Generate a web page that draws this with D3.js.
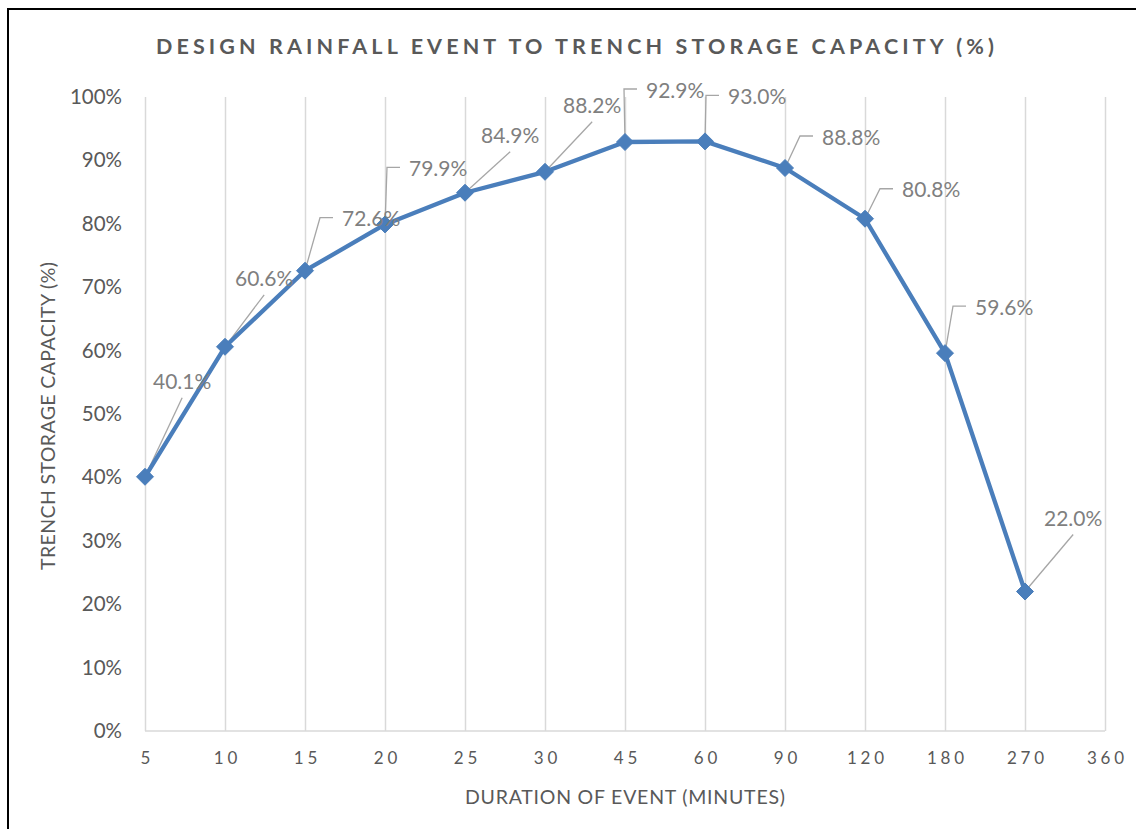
<!DOCTYPE html>
<html>
<head>
<meta charset="utf-8">
<script src="https://cdn.jsdelivr.net/npm/d3@7/dist/d3.min.js"></script>
<style>
  html, body { margin: 0; padding: 0; background: #fff; }
  svg { display: block; }
  text { font-family: Lato, "Open Sans", sans-serif; }
</style>
</head>
<body>
<svg id="chart" width="1136" height="829"></svg>
<script>
// ---- Data ----
const categories = ["5", "10", "15", "20", "25", "30", "45", "60", "90", "120", "180", "270", "360"];
const capacity = [0.401, 0.606, 0.726, 0.799, 0.849, 0.882, 0.929, 0.930, 0.888, 0.808, 0.596, 0.220, null];
const yTicks = [0, 0.1, 0.2, 0.3, 0.4, 0.5, 0.6, 0.7, 0.8, 0.9, 1.0];
const titleText = "DESIGN RAINFALL EVENT TO TRENCH STORAGE CAPACITY (%)";
const xTitle = "DURATION OF EVENT (MINUTES)";
const yTitle = "TRENCH STORAGE CAPACITY (%)";

// ---- Label layout (offsets of label text from its point, and leader style) ----
const labelLayout = [
  {dx: 8,  dy: -95, leader: "below"},
  {dx: 10, dy: -68, leader: "below"},
  {dx: 37, dy: -52, leader: "left"},
  {dx: 24, dy: -56, leader: "left"},
  {dx: 16, dy: -57, leader: "below"},
  {dx: 18, dy: -66, leader: "below"},
  {dx: 21, dy: -52, leader: "left"},
  {dx: 23, dy: -45, leader: "left"},
  {dx: 37, dy: -31, leader: "left"},
  {dx: 37, dy: -29, leader: "left"},
  {dx: 30, dy: -46, leader: "left"},
  {dx: 19, dy: -73, leader: "below"}
];

const svg = d3.select("#chart");
const W = 1136, H = 829;
const plot = {left: 145, top: 97, right: 1105, bottom: 731};

// Border (top + left visible)
svg.append("path")
  .attr("d", `M8,${H} L8,9 L${W},9`)
  .attr("fill", "none").attr("stroke", "#000").attr("stroke-width", 2);

const x = d3.scalePoint().domain(categories).range([plot.left, plot.right]);
const y = d3.scaleLinear().domain([0, 1]).range([plot.bottom, plot.top]);

// Vertical gridlines
const grid = svg.append("g").attr("transform", `translate(0,${plot.bottom})`)
  .call(d3.axisBottom(x).tickSize(-(plot.bottom - plot.top)).tickFormat(""));
grid.select(".domain").remove();
grid.selectAll(".tick line").attr("stroke", "#d9d9d9").attr("stroke-width", 1.5);

// Bottom axis line
svg.append("line")
  .attr("x1", plot.left).attr("x2", plot.right)
  .attr("y1", plot.bottom).attr("y2", plot.bottom)
  .attr("stroke", "#d9d9d9").attr("stroke-width", 1.5);

// X tick labels
const xAxis = svg.append("g").attr("transform", `translate(0,${plot.bottom})`)
  .call(d3.axisBottom(x).tickSize(0).tickPadding(0));
xAxis.select(".domain").remove();
xAxis.selectAll("text")
  .attr("y", 33)
  .attr("dy", 0)
  .attr("fill", "#595959")
  .style("font-size", "17px")
  .style("letter-spacing", "3.8px")
  .style("font-family", "Lato, sans-serif")
  .attr("text-anchor", "middle")
  .attr("dx", "1.9px");

// Y tick labels
const yAxis = svg.append("g").attr("transform", `translate(${plot.left},0)`)
  .call(d3.axisLeft(y).tickValues(yTicks).tickSize(0).tickPadding(23).tickFormat(d3.format(".0%")));
yAxis.select(".domain").remove();
yAxis.selectAll("text")
  .attr("fill", "#595959")
  .style("font-size", "20.5px")
  .style("font-family", "Lato, sans-serif");

// Title
svg.append("text")
  .attr("x", 575).attr("y", 54)
  .attr("text-anchor", "middle")
  .attr("fill", "#595959")
  .style("font-size", "21.5px")
  .style("font-weight", "bold")
  .attr("textLength", 838)
  .attr("lengthAdjust", "spacing")
  .text(titleText);

// Axis titles
svg.append("text")
  .attr("x", 625).attr("y", 804)
  .attr("text-anchor", "middle")
  .attr("fill", "#595959")
  .style("font-size", "19.5px")
  .attr("textLength", 320)
  .attr("lengthAdjust", "spacing")
  .text(xTitle);

svg.append("text")
  .attr("transform", `translate(55,416) rotate(-90)`)
  .attr("text-anchor", "middle")
  .attr("fill", "#595959")
  .style("font-size", "19.5px")
  .attr("textLength", 308)
  .attr("lengthAdjust", "spacing")
  .text(yTitle);

// Data
const pts = categories.map((c, i) => ({c, v: capacity[i], i})).filter(d => d.v !== null);

// Leader lines and labels
const leaders = svg.append("g");
const labels = svg.append("g");
pts.forEach(d => {
  const L = labelLayout[d.i];
  const px = x(d.c), py = y(d.v);
  const lx = px + L.dx, cy = py + L.dy;
  const t = labels.append("text")
    .attr("x", lx).attr("y", cy + 7.5)
    .attr("fill", "#7f7f7f")
    .style("font-size", "21px")
    .text(d3.format(".1%")(d.v));
  const w = t.node().getComputedTextLength();
  let path;
  if (L.leader === "below") {
    path = `M${lx + w / 2},${cy + 16} L${px},${py}`;
  } else {
    path = `M${lx - 9},${cy - 1} L${lx - 22},${cy - 1} L${px},${py}`;
  }
  leaders.append("path").attr("d", path)
    .attr("fill", "none").attr("stroke", "#a6a6a6").attr("stroke-width", 1.3);
});

// Series line
const line = d3.line().x(d => x(d.c)).y(d => y(d.v));
svg.append("path").datum(pts)
  .attr("d", line)
  .attr("fill", "none")
  .attr("stroke", "#4a7ebb")
  .attr("stroke-width", 4.3)
  .attr("stroke-linejoin", "round");

// Markers (diamonds)
svg.append("g").selectAll("path").data(pts).join("path")
  .attr("transform", d => `translate(${x(d.c)},${y(d.v)})`)
  .attr("d", "M0,-8.5 L8.5,0 L0,8.5 L-8.5,0 Z")
  .attr("fill", "#4a7ebb")
  .attr("stroke", "#4a7ebb")
  .attr("stroke-width", 1);

// Bring labels on top of line
labels.raise();
</script>
</body>
</html>
